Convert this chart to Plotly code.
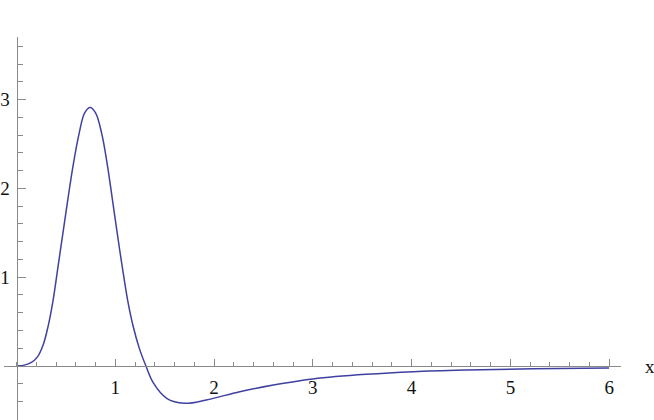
import plotly.graph_objects as go

# Values
x_vals = [0.0, 0.08, 0.15, 0.21, 0.27, 0.32, 0.37, 0.42, 0.47, 0.52, 0.57, 0.63, 0.69, 0.745,
          0.80, 0.862, 0.92, 0.97, 1.02, 1.07, 1.125, 1.18, 1.24, 1.31, 1.385,
          1.52, 1.70, 1.92, 2.26, 2.60, 2.87, 3.0, 3.54, 4.02, 4.56, 5.23, 6.0]
y_vals = [0.0, 0.01, 0.04, 0.10, 0.24, 0.45, 0.74, 1.12, 1.50, 1.88, 2.24, 2.60, 2.85, 2.91,
          2.85, 2.62, 2.26, 1.88, 1.49, 1.12, 0.74, 0.45, 0.21, 0.0, -0.19,
          -0.364, -0.42, -0.383, -0.289, -0.214, -0.165, -0.145, -0.094, -0.064, -0.045, -0.03, -0.022]

x_ticks = [0, 1, 2, 3, 4, 5, 6]
x_tick_text = ["", "1", "2", "3", "4", "5", "6"]
y_ticks = [0, 1, 2, 3]
y_tick_text = ["", "1", "2", "3"]
x_minor = [round(0.2 * i, 1) for i in range(0, 31)]
y_minor = [round(-0.6 + 0.2 * i, 1) for i in range(0, 22)]
axis_label = "x"

x_range = [-0.127, 6.12]
y_range = [-0.608, 3.705]

fig = go.Figure()
fig.add_trace(go.Scatter(x=x_vals, y=y_vals, mode="lines",
                         line=dict(color="#4040a0", width=1.5, shape="spline", smoothing=1.0),
                         hoverinfo="skip", showlegend=False))

axis_color = "#8a8a8a"
tick_font = dict(family="Liberation Serif, serif", size=19, color="#111111")
y0_frac = (0 - y_range[0]) / (y_range[1] - y_range[0])

fig.update_layout(
    width=654, height=420,
    margin=dict(l=4, r=33, t=37, b=0, autoexpand=False),
    paper_bgcolor="white", plot_bgcolor="white",
    showlegend=False,
    xaxis=dict(
        range=x_range, showgrid=False, zeroline=False, automargin=False,
        anchor="free", position=y0_frac,
        showline=True, linecolor=axis_color, linewidth=1,
        tickmode="array", tickvals=x_ticks, ticktext=x_tick_text,
        ticks="inside", ticklen=7, tickcolor=axis_color, tickwidth=1,
        tickfont=tick_font, ticklabelstandoff=4,
        minor=dict(tickmode="array", tickvals=x_minor, ticks="inside", ticklen=4,
                   tickcolor=axis_color, tickwidth=1, showgrid=False),
    ),
    yaxis=dict(
        range=y_range, showgrid=False, zeroline=False, automargin=False,
        anchor="free", position=(0 - x_range[0]) / (x_range[1] - x_range[0]),
        showline=True, linecolor=axis_color, linewidth=1,
        tickmode="array", tickvals=y_ticks, ticktext=y_tick_text,
        ticks="inside", ticklen=8, tickcolor=axis_color, tickwidth=1,
        tickfont=tick_font, ticklabelstandoff=3,
        minor=dict(tickmode="array", tickvals=y_minor, ticks="inside", ticklen=5,
                   tickcolor=axis_color, tickwidth=1, showgrid=False),
    ),
    annotations=[dict(text=axis_label, x=(650 - 4) / (621 - 4), y=y0_frac,
                      xref="paper", yref="paper", showarrow=False,
                      font=dict(family="Liberation Serif, serif", size=19, color="#111111"),
                      xanchor="center", yanchor="middle")],
)

fig.write_html("out.html", config={"displayModeBar": False},
               post_script="document.body.style.margin='0';")
